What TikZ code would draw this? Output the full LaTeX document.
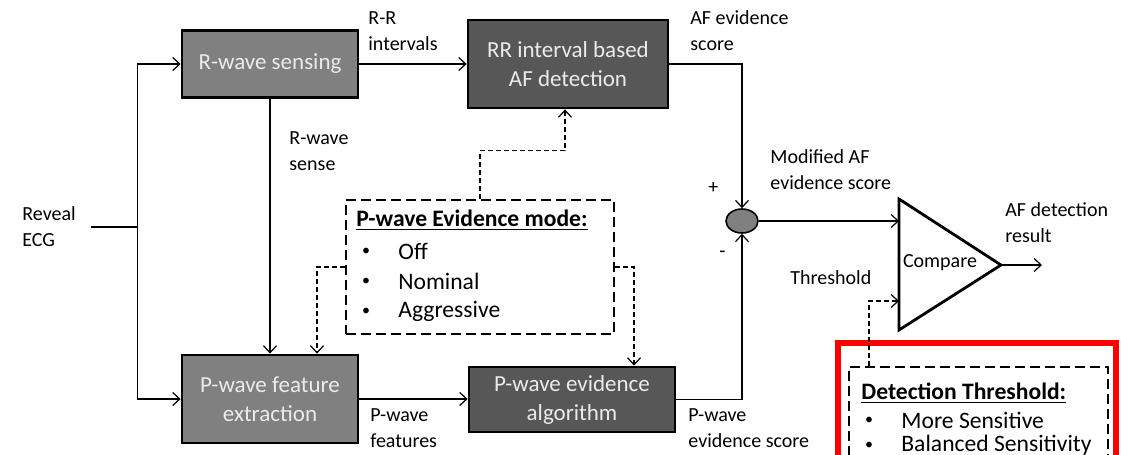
\documentclass[tikz,border=0pt]{standalone}
\usepackage{fontspec}
\setmainfont{Carlito}
\usepackage{tikz}
\usetikzlibrary{shapes.geometric, arrows.meta}

\definecolor{midgray}{HTML}{808080}
\definecolor{darkgray}{HTML}{575757}
\definecolor{boxtext}{HTML}{EBEBEB}

\begin{document}
\begin{tikzpicture}[x=0.5pt, y=-0.5pt, >={Straight Barb[length=3.5pt, width=6.5pt]},
	block/.style={rectangle, draw=black, line width=1.4pt, text=boxtext, align=center, inner sep=0pt, font=\fontsize{11.5}{14.5}\selectfont},
	lightblock/.style={block, fill=midgray},
	darkblock/.style={block, fill=darkgray},
	optbox/.style={rectangle, draw=black, line width=1.3pt, dash pattern=on 5pt off 2.5pt, inner sep=0pt},
	lbl/.style={align=left, inner sep=0pt, anchor=west, font=\fontsize{10}{13}\selectfont},
	opt/.style={inner sep=0pt, anchor=west, font=\fontsize{11.8}{14}\selectfont},
	dot/.style={inner sep=0pt, font=\fontsize{8}{8}\selectfont},
	link/.style={draw=black, line width=0.6pt, ->},
	ctrl/.style={draw=black, line width=0.6pt, dash pattern=on 2.5pt off 1.5pt, ->}]
			\useasboundingbox (0,0) rectangle (1121,455);
			
			\node[lightblock, minimum width=88pt, minimum height=33.5pt] (rsense) at (270,64){R-wave sensing};
			\node[darkblock, minimum width=100pt, minimum height=44pt] (rrdet) at (568,64){RR interval based\\AF detection};
			\node[lightblock, minimum width=88pt, minimum height=44pt] (pfeat) at (270,399){P-wave feature\\extraction};
			\node[darkblock, minimum width=103pt, minimum height=32.5pt] (pevid) at (572,399.5){P-wave evidence\\algorithm};
			\node[ellipse, draw=black, line width=0.8pt, fill=midgray, minimum width=16pt, minimum height=12pt, inner sep=0pt] (sum) at (742,221){};
			
			\node[optbox, minimum width=134pt, minimum height=67pt] (mode) at (480,267){};
			\node[opt, font=\fontsize{11.8}{14}\selectfont\bfseries] (modetitle) at (356,220){\underline{P-wave Evidence mode:}};
			\node[dot] (b1) at (366,252){\textbullet};
			\node[opt] (o1) at (398,251){Off};
			\node[dot] (b2) at (366,282){\textbullet};
			\node[opt] (o2) at (398,281){Nominal};
			\node[dot] (b3) at (366,312){\textbullet};
			\node[opt] (o3) at (398,311){Aggressive};
			
			\coordinate (cmpA) at (899,199);
			\coordinate (cmpB) at (899,330);
			\coordinate (cmpC) at (1001,265);
			\coordinate (in1) at (899,221);
			\coordinate (in2) at (899,301);
			\coordinate (out) at (1042,265);
			\draw[line width=1.4pt, line join=miter] (cmpA) -- (cmpC) -- (cmpB) -- cycle;
			\node[inner sep=0pt, font=\fontsize{10}{13}\selectfont] (cmp) at (940,263){Compare};
			
			\draw[red, line width=3pt] (838,343) rectangle (1116,520);
			\node[optbox, minimum width=129.5pt, minimum height=76.5pt] (thr) at (978.5,443.5){};
			\node[opt, font=\fontsize{11.8}{14}\selectfont\bfseries] (thrtitle) at (861,393){\underline{Detection Threshold:}};
			\node[dot] (t1) at (869,421){\textbullet};
			\node[opt] (s1) at (901,420){More Sensitive};
			\node[dot] (t2) at (869,446){\textbullet};
			\node[opt] (s2) at (901,445){Balanced Sensitivity};
			
			\coordinate (ecg) at (91,227);
			\coordinate (split) at (137.5,227);
			\node[lbl] (ecglbl) at (22,227){Reveal\\ECG};
			\node[lbl] (rrlbl) at (368,31){R-R\\intervals};
			\node[lbl] (senselbl) at (289,151){R-wave\\sense};
			\node[lbl] (aflbl) at (690,31){AF evidence\\score};
			\node[lbl] (modlbl) at (770,170){Modified AF\\evidence score};
			\node[lbl] (plus) at (708,188){+};
			\node[lbl] (minus) at (719,254){-};
			\node[lbl] (reslbl) at (1005,223){AF detection\\result};
			\node[lbl] (thlbl) at (790,278){Threshold};
			\node[lbl] (featlbl) at (370,428){P-wave\\features};
			\node[lbl] (scorelbl) at (688,428){P-wave\\evidence score};
			
			\draw[line width=0.6pt] (ecg) -- (split);
			\draw[link] (split) |- (rsense.west);
			\draw[link] (split) |- (pfeat.west);
			\path[link] (rsense) edge (rrdet);
			\path[link] (rsense) edge (pfeat);
			\draw[link] (pfeat.east) -- (pevid.west |- pfeat.east);
			\draw[link] (rrdet.east) -| (sum.north);
			\draw[link] (pevid.east) -| (sum.south);
			\draw[link] (sum.east) -- (in1);
			\draw[link] (cmpC) -- (out);
			
			\draw[ctrl] (mode.north) -- ++(0,-48) -| ([xshift=-1.5pt]rrdet.south);
			\draw[ctrl] (mode.west) -| ([xshift=23.5pt]pfeat.north);
			\draw[ctrl] (mode.east) -| ([xshift=31pt]pevid.north);
			\draw[ctrl] ([xshift=-54.75pt]thr.north) |- (in2);
\end{tikzpicture}
\end{document}
